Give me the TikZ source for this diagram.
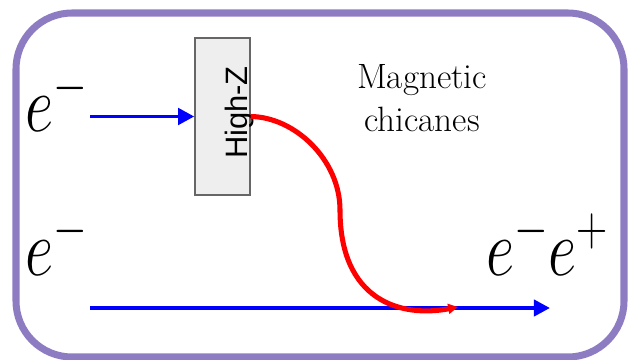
\RequirePackage{fix-cm}
\documentclass[tikz,border=0pt]{standalone}
\usepackage{fontspec}
\usepackage{graphicx}
\usepackage{xcolor}
\usepackage{tikz}
\usetikzlibrary{arrows.meta,positioning}
\newfontfamily\arialfont{Liberation Sans}
\definecolor{framepurple}{HTML}{8E7CC3}
\definecolor{boxgray}{HTML}{EEEEEE}
\definecolor{boxedge}{HTML}{666666}

\begin{document}
\begin{tikzpicture}[x=0.025cm,y=-0.025cm,
  beam/.style={draw=blue,line width=2.8pt,-{Triangle[length=11.5pt,width=11.5pt]}},
  pairpath/.style={draw=red,line width=3.6pt,-{Triangle[length=7pt,width=7pt]}},
  particle/.style={anchor=base west,inner sep=0pt,font=\fontsize{44}{50}\selectfont},
  hzbox/.style={draw=boxedge,fill=boxgray,line width=0.9pt,minimum width=1.375cm,minimum height=3.925cm,inner sep=0pt}]
  \useasboundingbox (0,0) rectangle (629,360);
  \draw[framepurple,line width=5pt,rounded corners=1.4cm] (16,13) rectangle (624,357);

  \node[hzbox] (hz) at (222.5,116.5) {};
  \node[rotate=90,anchor=base,inner sep=0pt,font=\arialfont\fontsize{22}{26}\selectfont] (hzlabel) at (247,112.5) {High-Z};
  \node[particle] (etop) at (25,132) {\scalebox{1}[1.3]{$e^-$}};
  \node[particle] (ebot) at (25,275) {\scalebox{1}[1.3]{$e^-$}};
  \node[particle] (epair) at (486,275) {\scalebox{1}[1.3]{$e^-e^+$}};
  \node[align=center,font=\fontsize{25}{31}\selectfont] (chicane) at (422,98) {Magnetic\\chicanes};

  \coordinate (topstart) at (90,116.5);
  \coordinate (botstart) at (90,308);
  \coordinate (botend) at (550,308);
  \coordinate (redend) at (458,307);

  \draw[beam] (topstart) -- (hz.west);
  \draw[beam] (botstart) -- (botend);
  \draw[pairpath] (hz.east) .. controls (295,117) and (340,160) .. (340,210)
    .. controls (340,300) and (400,318) .. (redend);
\end{tikzpicture}
\end{document}
